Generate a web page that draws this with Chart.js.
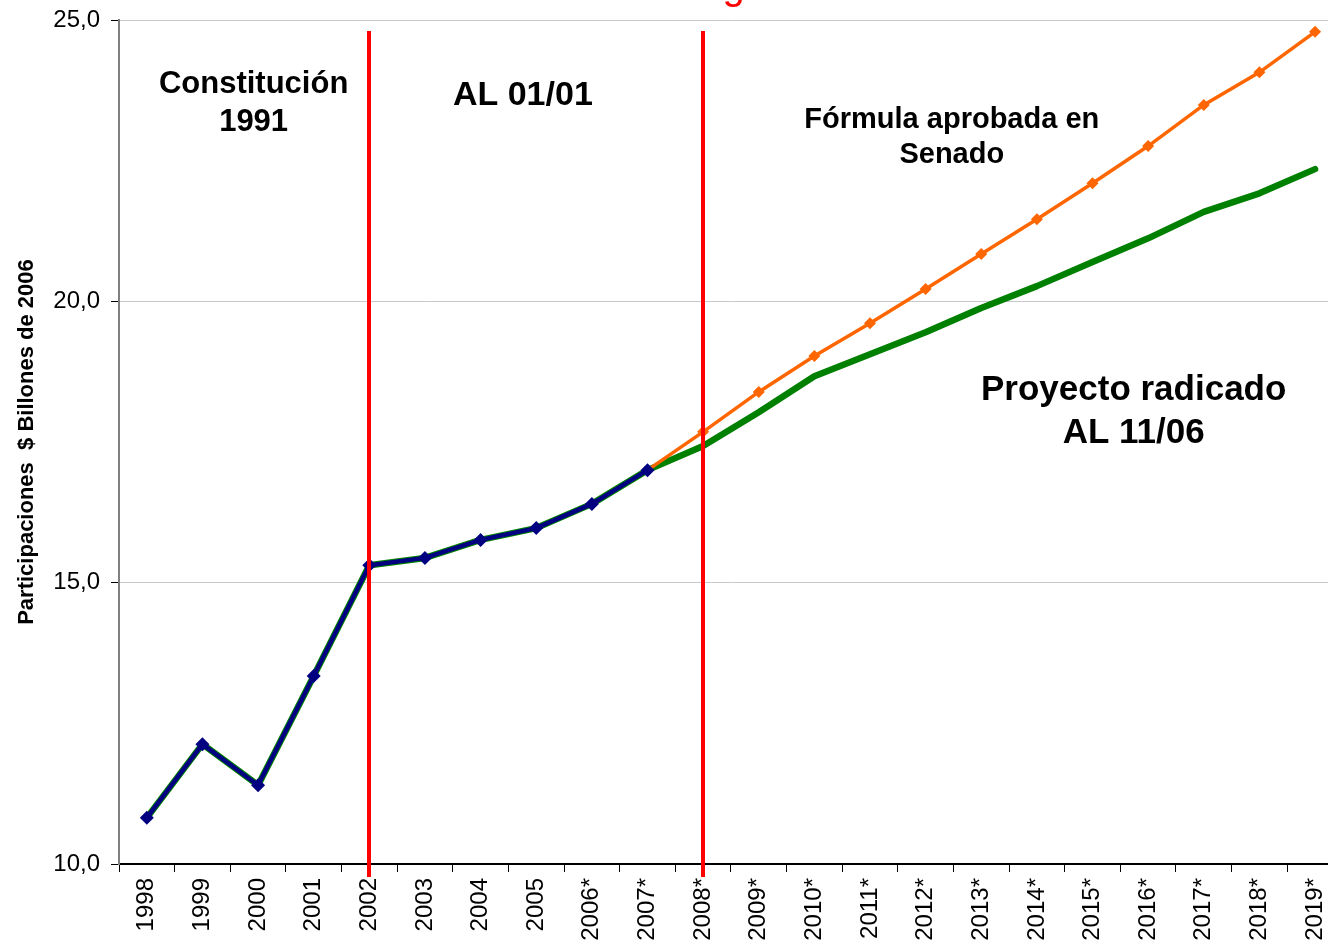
<!DOCTYPE html>
<html>
<head>
<meta charset="utf-8">
<script src="https://cdn.jsdelivr.net/npm/chart.js@4/dist/chart.umd.min.js"></script>
<style>
    html, body { margin: 0; padding: 0; background: #ffffff; overflow: hidden; }
    #wrap { position: relative; width: 1350px; height: 950px; }
</style>
</head>
<body>
<div id="wrap"><canvas id="chart"></canvas></div>
<script>
// Categories and series ($ billones de 2006)
const years = ['1998', '1999', '2000', '2001', '2002', '2003', '2004', '2005', '2006*', '2007*',
    '2008*', '2009*', '2010*', '2011*', '2012*', '2013*', '2014*', '2015*', '2016*', '2017*', '2018*', '2019*'];

const historico = [10.82, 12.13, 11.40, 13.34, 15.31, 15.44, 15.76, 15.97, 16.40, 17.00,
    null, null, null, null, null, null, null, null, null, null, null, null];

const formulaSenado = [null, null, null, null, null, null, null, null, null, 17.00,
    17.68, 18.39, 19.03, 19.61, 20.22, 20.84, 21.46, 22.10, 22.76, 23.49, 24.07, 24.79];

const proyectoRadicado = [10.82, 12.13, 11.40, 13.34, 15.31, 15.44, 15.76, 15.97, 16.40, 17.00,
    17.43, 18.03, 18.67, 19.06, 19.45, 19.88, 20.27, 20.70, 21.12, 21.59, 21.92, 22.35];

const yTicks = [10, 15, 20, 25];

// Vertical reform markers (category labels)
const reformYears = ['2002', '2008*'];

// Text annotations: lines, category index, value of first line, font size
const notes = [
    { lines: ['Constitución', '1991'], x: 1.92, y: 23.85, size: 31 },
    { lines: ['AL 01/01'], x: 6.76, y: 23.65, size: 34 },
    { lines: ['Fórmula aprobada en', 'Senado'], x: 14.47, y: 23.23, size: 29 },
    { lines: ['Proyecto radicado', 'AL 11/06'], x: 17.74, y: 18.42, size: 35 }
];

const FONT = 'Liberation Sans, Arial, sans-serif';

// Draws red reform lines, annotations and the clipped title glyph
const overlayPlugin = {
    id: 'overlay',
    afterDatasetsDraw(chart) {
        const { ctx, chartArea, scales } = chart;
        const x = scales.x, y = scales.y;

        ctx.save();
        ctx.strokeStyle = '#ff0000';
        ctx.lineWidth = 4;
        reformYears.forEach(label => {
            const px = Math.round(x.getPixelForValue(years.indexOf(label)));
            ctx.beginPath();
            ctx.moveTo(px, chartArea.top + 11);
            ctx.lineTo(px, chartArea.bottom + 13);
            ctx.stroke();
        });

        ctx.fillStyle = '#000000';
        ctx.textAlign = 'center';
        ctx.textBaseline = 'middle';
        notes.forEach(n => {
            ctx.font = 'bold ' + n.size + 'px ' + FONT;
            const cx = x.getPixelForValue(n.x);
            const cy = y.getPixelForValue(n.y);
            const lh = n.size * 1.22;
            n.lines.forEach((line, i) => {
                ctx.fillText(line, cx, cy + i * lh);
            });
        });

        // clipped title remnant at the top edge
        ctx.fillStyle = '#ff0000';
        ctx.font = '40px ' + FONT;
        ctx.textBaseline = 'alphabetic';
        ctx.fillText('g', x.getPixelForValue(10.55), -1);
        ctx.restore();
    }
};

new Chart(document.getElementById('chart'), {
    type: 'line',
    data: {
        labels: years,
        datasets: [
            {
                label: 'Histórico',
                data: historico,
                borderColor: '#000080',
                backgroundColor: '#000080',
                borderWidth: 4.5,
                pointStyle: 'rectRot',
                pointRadius: 7,
                pointBorderWidth: 0,
                tension: 0,
                order: 1
            },
            {
                label: 'Fórmula aprobada en Senado',
                data: formulaSenado,
                borderColor: '#ff6600',
                backgroundColor: '#ff6600',
                borderWidth: 3.5,
                pointStyle: 'rectRot',
                pointRadius: 6,
                pointBorderWidth: 0,
                tension: 0,
                order: 2
            },
            {
                label: 'Proyecto radicado AL 11/06',
                data: proyectoRadicado,
                borderColor: '#008000',
                backgroundColor: '#008000',
                borderWidth: 6.5,
                pointRadius: 0,
                tension: 0,
                borderCapStyle: 'round',
                borderJoinStyle: 'round',
                order: 3
            }
        ]
    },
    options: {
        responsive: true,
        maintainAspectRatio: false,
        animation: false,
        layout: { padding: { left: 14, right: 4, top: 20, bottom: 0 } },
        plugins: {
            legend: { display: false },
            tooltip: { enabled: false }
        },
        scales: {
            x: {
                offset: true,
                grid: {
                    offset: true,
                    drawOnChartArea: false,
                    drawTicks: true,
                    tickLength: 8,
                    color: '#000000'
                },
                border: { color: '#000000', width: 2 },
                ticks: {
                    color: '#000000',
                    font: { family: FONT, size: 24 },
                    maxRotation: 90,
                    minRotation: 90,
                    autoSkip: false,
                    padding: 6
                },
                afterFit(scale) { scale.height = 86; }
            },
            y: {
                min: 10,
                max: 25,
                afterBuildTicks(scale) {
                    scale.ticks = yTicks.map(v => ({ value: v }));
                },
                grid: {
                    color: '#c8c8c8',
                    tickColor: '#000000',
                    tickLength: 8,
                    lineWidth: 1
                },
                border: { color: '#808080', width: 2 },
                ticks: {
                    color: '#000000',
                    font: { family: FONT, size: 24 },
                    padding: 11,
                    callback: value => value.toFixed(1).replace('.', ',')
                },
                title: {
                    display: true,
                    text: 'Participaciones  $ Billones de 2006',
                    color: '#000000',
                    font: { family: FONT, size: 22, weight: 'bold' },
                    padding: { top: 0, bottom: 0 }
                },
                afterFit(scale) {
                    scale.width = 105;
                    scale.paddingTop = 0;
                    scale.paddingBottom = 0;
                }
            }
        }
    },
    plugins: [overlayPlugin]
});
</script>
</body>
</html>
